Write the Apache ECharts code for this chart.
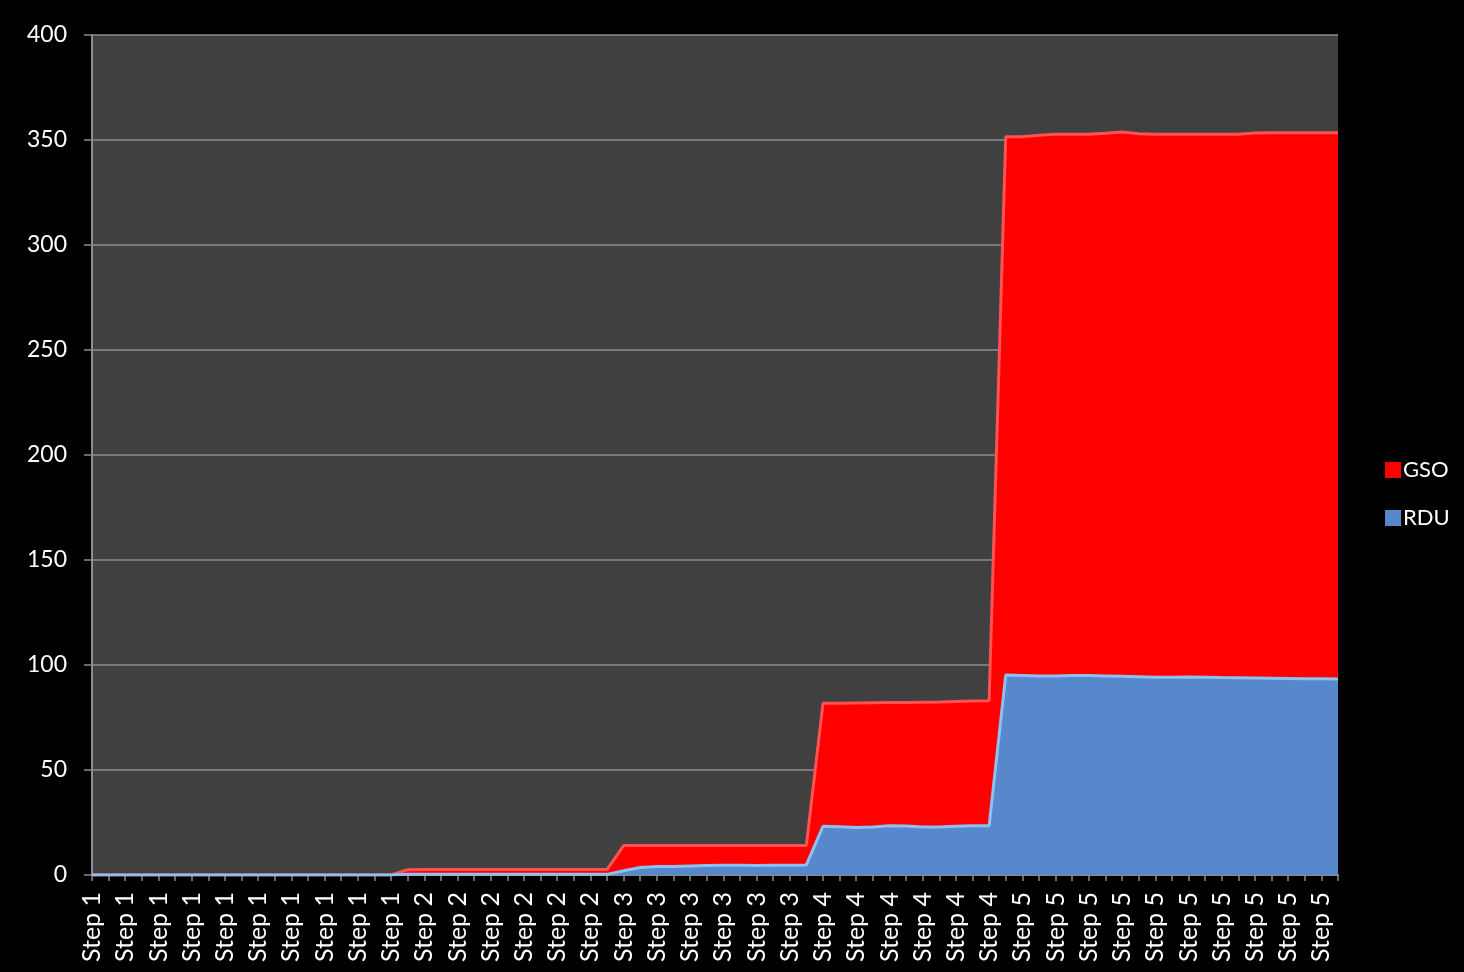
<!DOCTYPE html>
<html>
<head>
<meta charset="utf-8">
<script src="https://cdn.jsdelivr.net/npm/echarts@6/dist/echarts.min.js"></script>
<style>
html,body{margin:0;padding:0;background:#000;}
#chart{width:1464px;height:972px;}
</style>
</head>
<body>
<div id="chart"></div>
<script>
// Step labels and number of data points per step
const stepNames = ['Step 1', 'Step 2', 'Step 3', 'Step 4', 'Step 5'];

// RDU values per step (bottom series)
const rduStep1 = [0,0,0,0,0,0,0,0,0,0,0,0,0,0,0,0,0,0,0];
const rduStep2 = [0.3,0.3,0.3,0.3,0.3,0.3,0.3,0.3,0.3,0.3,0.3,0.3,0.3];
const rduStep3 = [2.0,3.6,4.0,4.1,4.3,4.5,4.7,4.6,4.5,4.6,4.7,4.8];
const rduStep4 = [23.2,23.0,22.6,22.9,23.4,23.3,22.9,22.8,23.2,23.4,23.4];
const rduStep5 = [95.2,95.0,94.8,94.8,95.0,95.0,94.8,94.6,94.4,94.2,94.2,94.3,94.2,94.0,93.9,93.8,93.7,93.6,93.5,93.4,93.3];

// GSO values per step (stacked on top)
const gsoStep1 = [0,0,0,0,0,0,0,0,0,0,0,0,0,0,0,0,0,0,0];
const gsoStep2 = [2.2,2.3,2.3,2.3,2.3,2.3,2.3,2.3,2.3,2.3,2.3,2.3,2.3];
const gsoStep3 = [12.0,10.4,10.1,10.0,9.8,9.6,9.4,9.5,9.6,9.5,9.4,9.3];
const gsoStep4 = [58.6,58.8,59.3,59.1,58.7,58.9,59.4,59.6,59.4,59.4,59.6];
const gsoStep5 = [256.4,256.6,257.5,257.9,257.7,257.7,258.4,259.2,258.6,258.5,258.5,258.4,258.5,258.7,258.8,259.5,259.8,259.9,260.0,260.1,260.2];

const yTicks = [0, 50, 100, 150, 200, 250, 300, 350, 400];

const rduSteps = [rduStep1, rduStep2, rduStep3, rduStep4, rduStep5];
const gsoSteps = [gsoStep1, gsoStep2, gsoStep3, gsoStep4, gsoStep5];
const categories = [];
rduSteps.forEach((arr, i) => arr.forEach(() => categories.push(stepNames[i])));
const rdu = [].concat(...rduSteps);
const gso = [].concat(...gsoSteps);

const chart = echarts.init(document.getElementById('chart'));
const FONT = 'Lato';
chart.setOption({
  backgroundColor: '#000000',
  animation: false,
  textStyle: { fontFamily: FONT },
  grid: {
    left: 92, right: 126, top: 35, bottom: 97,
    show: true, backgroundColor: '#404040', borderWidth: 0,
    containLabel: false
  },
  legend: {
    orient: 'vertical',
    left: 1380, top: 454,
    itemWidth: 16, itemHeight: 16, itemGap: 26,
    icon: 'rect',
    data: ['GSO', 'RDU'],
    textStyle: { color: '#ffffff', fontSize: 22, fontFamily: FONT, padding: [0,0,0,-3] }
  },
  xAxis: {
    type: 'category',
    boundaryGap: false,
    data: categories,
    axisLine: { show: true, lineStyle: { color: '#8c8c8c', width: 2 } },
    axisTick: { show: true, interval: 0, length: 6, lineStyle: { color: '#8c8c8c', width: 1.5 } },
    axisLabel: { interval: 1, rotate: 90, color: '#ffffff', fontSize: 25, fontFamily: FONT, margin: 17 },
    splitLine: { show: false }
  },
  yAxis: {
    type: 'value',
    min: yTicks[0], max: yTicks[yTicks.length - 1], interval: yTicks[1] - yTicks[0],
    axisLine: { show: true, lineStyle: { color: '#8c8c8c', width: 2 } },
    axisTick: { show: true, length: 8, lineStyle: { color: '#8c8c8c', width: 1.5 } },
    axisLabel: { color: '#ffffff', fontSize: 23, fontFamily: FONT, margin: 25 },
    splitLine: { show: true, lineStyle: { color: '#8c8c8c', width: 1.5 } }
  },
  series: [
    {
      name: 'RDU', type: 'line', stack: 'total', data: rdu, z: 3,
      showSymbol: false, symbol: 'rect',
      itemStyle: { color: '#5888cc' },
      lineStyle: { color: '#8ec0f0', width: 3 },
      areaStyle: { color: '#5888cc', opacity: 1 }
    },
    {
      name: 'GSO', type: 'line', stack: 'total', data: gso, z: 2,
      showSymbol: false, symbol: 'rect',
      itemStyle: { color: '#ff0000' },
      lineStyle: { color: '#ff5252', width: 3 },
      areaStyle: { color: '#ff0000', opacity: 1 }
    }
  ]
});
</script>
</body>
</html>
